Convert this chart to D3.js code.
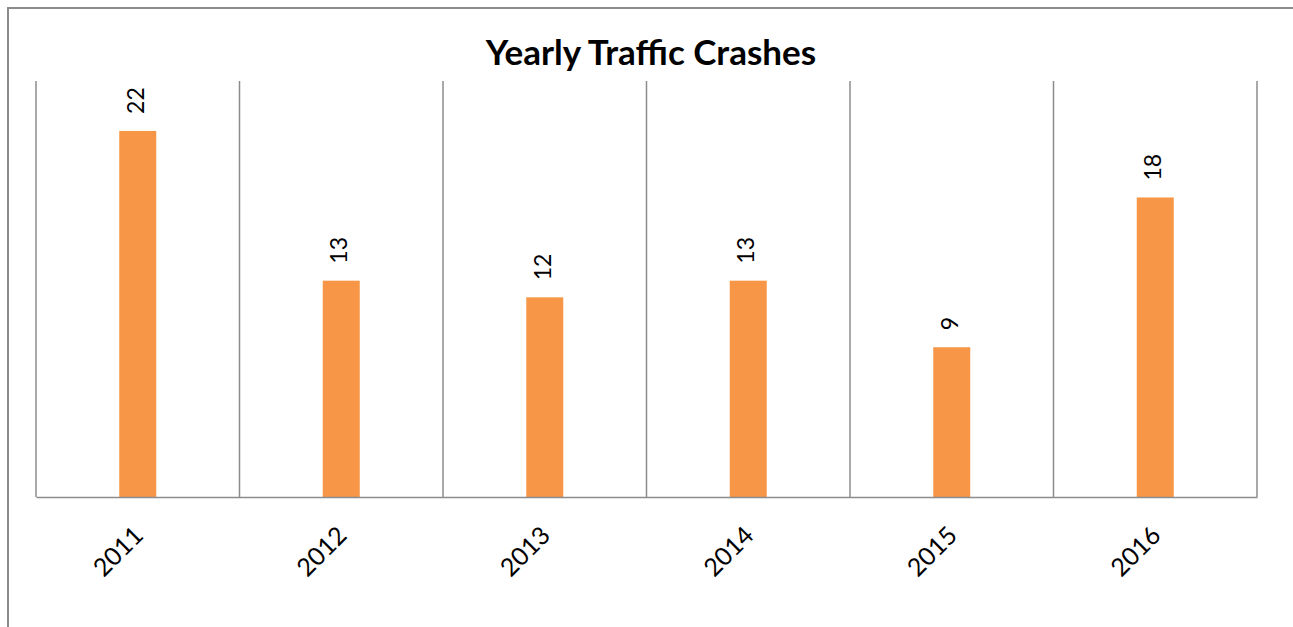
<!DOCTYPE html>
<html><head><meta charset="utf-8">
<script src="https://cdn.jsdelivr.net/npm/d3@7"></script>
<style>body{margin:0;background:#fff;}svg{display:block;}</style>
</head><body>
<script>
const categories = ["2011","2012","2013","2014","2015","2016"];
const crashes = [22,13,12,13,9,18];
const title = "Yearly Traffic Crashes";

const W = 1293, H = 627;
const svg = d3.select("body").append("svg").attr("width", W).attr("height", H);
const m = {left:36, right:1257, top:81, bottom:497};

// outer frame
svg.append("path").attr("d", `M8,${H+5} L8,8 L${W+5},8`).attr("fill","none").attr("stroke","#8c8c8c").attr("stroke-width",2);

const x = d3.scaleBand().domain(categories).range([m.left, m.right]).paddingInner(0).paddingOuter(0);
const y = d3.scaleLinear().domain([0,25]).range([m.bottom, m.top]);

// vertical gridlines at category boundaries
const bounds = categories.map(c => x(c)).concat([x(categories[categories.length-1]) + x.bandwidth()]);
svg.append("g").selectAll("line").data(bounds).join("line")
  .attr("x1", d=>d).attr("x2", d=>d).attr("y1", m.top).attr("y2", m.bottom)
  .attr("stroke","#8c8c8c").attr("stroke-width",1.5);

const barW = 37;
svg.append("g").selectAll("rect").data(categories).join("rect")
  .attr("x", (c)=> x(c) + x.bandwidth()/2 - barW/2)
  .attr("width", barW)
  .attr("y", (c,i)=> y(crashes[i]))
  .attr("height", (c,i)=> m.bottom - y(crashes[i]))
  .attr("fill","#F79646");

// axis line
const xAxis = d3.axisBottom(x).tickSize(0).tickPadding(0);
const gx = svg.append("g").attr("transform", `translate(0,${m.bottom})`).call(xAxis);
gx.select(".domain").attr("stroke","#8c8c8c").attr("stroke-width",1.5);
gx.selectAll(".tick text")
  .attr("font-family","Lato, 'Open Sans', sans-serif").attr("font-size",25).attr("fill","#000")
  .attr("text-anchor","end").attr("dy",0)
  .attr("transform","translate(7,40) rotate(-45)");

// value labels
svg.append("g").selectAll("text").data(categories).join("text")
  .attr("transform",(c,i)=>`translate(${x(c)+x.bandwidth()/2+6},${y(crashes[i])-17}) rotate(-90)`)
  .attr("font-family","Lato, 'Open Sans', sans-serif").attr("font-size",23).attr("fill","#000")
  .attr("text-anchor","start")
  .text((c,i)=>crashes[i]);

svg.append("text").attr("x", 651).attr("y", 65).attr("text-anchor","middle")
  .attr("font-family","Lato, 'Open Sans', sans-serif").attr("font-weight","bold").attr("font-size",35)
  .attr("fill","#000").text(title);
</script>
</body></html>
